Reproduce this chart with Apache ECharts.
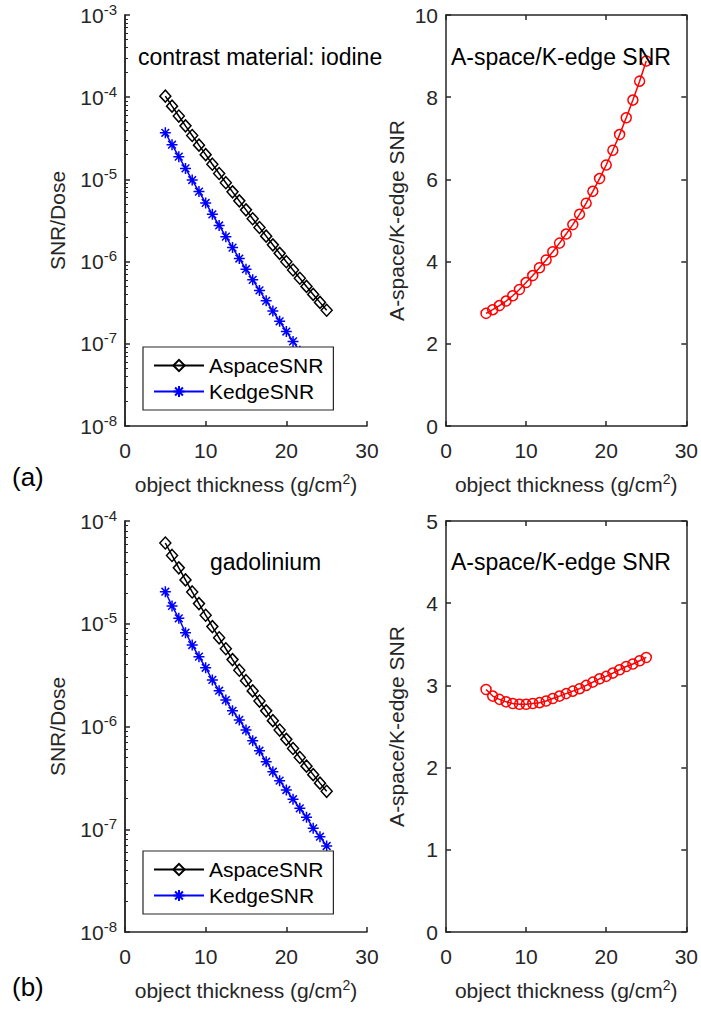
<!DOCTYPE html>
<html><head><meta charset="utf-8">
<script src="https://cdn.jsdelivr.net/npm/echarts@6/dist/echarts.min.js"></script>
<style>html,body{margin:0;padding:0;background:#fff}#c{width:701px;height:1011px}</style>
</head><body><div id="c"></div>
<script>
// ---------- data ----------
const thickness = [5, 5.83, 6.67, 7.5, 8.33, 9.17, 10, 10.83, 11.67, 12.5, 13.33, 14.17, 15, 15.83, 16.67, 17.5, 18.33, 19.17, 20, 20.83, 21.67, 22.5, 23.33, 24.17, 25];
const iodineAspace = [1.03e-4, 7.78e-5, 5.90e-5, 4.48e-5, 3.42e-5, 2.61e-5, 2.00e-5, 1.53e-5, 1.18e-5, 9.12e-6, 7.06e-6, 5.48e-6, 4.26e-6, 3.32e-6, 2.60e-6, 2.04e-6, 1.60e-6, 1.26e-6, 9.97e-7, 7.90e-7, 6.27e-7, 4.99e-7, 3.99e-7, 3.19e-7, 2.56e-7];
const iodineKedge = [3.69e-5, 2.64e-5, 1.89e-5, 1.36e-5, 9.83e-6, 7.11e-6, 5.17e-6, 3.76e-6, 2.75e-6, 2.01e-6, 1.48e-6, 1.09e-6, 8.08e-7, 6.00e-7, 4.46e-7, 3.33e-7, 2.50e-7, 1.88e-7, 1.41e-7, 1.07e-7, 8.10e-8, 6.16e-8, 4.70e-8, 3.60e-8, 2.76e-8];
const iodineRatio = [2.74, 2.83, 2.93, 3.04, 3.17, 3.32, 3.49, 3.66, 3.85, 4.04, 4.24, 4.45, 4.67, 4.90, 5.15, 5.42, 5.71, 6.02, 6.35, 6.71, 7.09, 7.50, 7.93, 8.39, 8.88];
const gdAspace = [6.11e-5, 4.62e-5, 3.50e-5, 2.67e-5, 2.04e-5, 1.57e-5, 1.21e-5, 9.38e-6, 7.30e-6, 5.71e-6, 4.48e-6, 3.53e-6, 2.79e-6, 2.22e-6, 1.77e-6, 1.42e-6, 1.14e-6, 9.24e-7, 7.50e-7, 6.11e-7, 5.00e-7, 4.11e-7, 3.40e-7, 2.81e-7, 2.34e-7];
const gdKedge = [2.05e-5, 1.49e-5, 1.13e-5, 8.18e-6, 6.21e-6, 4.78e-6, 3.73e-6, 2.84e-6, 2.23e-6, 1.81e-6, 1.42e-6, 1.16e-6, 9.24e-7, 7.27e-7, 5.81e-7, 4.54e-7, 3.63e-7, 2.97e-7, 2.41e-7, 1.96e-7, 1.60e-7, 1.31e-7, 1.02e-7, 8.46e-8, 6.87e-8];
const gdRatio = [2.95, 2.87, 2.83, 2.80, 2.78, 2.77, 2.77, 2.78, 2.79, 2.81, 2.84, 2.87, 2.90, 2.93, 2.96, 3.00, 3.04, 3.08, 3.11, 3.15, 3.19, 3.23, 3.26, 3.30, 3.34];
const seriesNames = ['AspaceSNR', 'KedgeSNR'];
const xTitle = 'object thickness (g/cm';
const ySnrTitle = 'SNR/Dose';
const yRatioTitle = 'A-space/K-edge SNR';

// ---------- style ----------
const FONT = '"Liberation Sans", Arial, Helvetica, sans-serif';
const AX = '#262626';
const TICK = 21;
const chart = echarts.init(document.getElementById('c'), null, {renderer: 'svg'});

const grids = [
  {left: 125, top: 15, width: 242, height: 411},
  {left: 446, top: 15, width: 242, height: 411},
  {left: 125, top: 521, width: 242, height: 411},
  {left: 446, top: 521, width: 242, height: 411}
];

const axLine = {show: true, onZero: false, lineStyle: {color: AX, width: 1.5}};
const noSplit = {show: false};

function xBottom(gi) {
  return {type: 'value', gridIndex: gi, min: 0, max: 30, interval: 10, position: 'bottom',
    axisLine: axLine,
    axisTick: {show: true, inside: true, length: 5, lineStyle: {color: AX, width: 1.5}},
    axisLabel: {margin: 14, color: AX, fontSize: TICK, fontFamily: FONT},
    splitLine: noSplit,
    name: '{a|' + xTitle + '}{s|2}{a|)}', nameLocation: 'middle', nameGap: 46,
    nameTextStyle: {color: AX, rich: {
      a: {fontSize: 21, fontFamily: FONT, color: AX},
      s: {fontSize: 14, fontFamily: FONT, color: AX, padding: [0, 0, 10, 0]}}}
  };
}
function xTop(gi) {
  return {type: 'value', gridIndex: gi, min: 0, max: 30, interval: 10, position: 'top',
    axisLine: axLine, axisLabel: {show: false}, splitLine: noSplit,
    axisTick: {show: true, inside: true, length: 5, lineStyle: {color: AX, width: 1.5}}};
}
// log axis used for plotting the SNR/Dose values
function yLogData(gi, mn, mx) {
  return {type: 'log', logBase: 10, gridIndex: gi, min: mn, max: mx, position: 'left', show: false};
}
// decade ticks and 10^n labels
function yLogLabels(gi, mnE, mxE) {
  return {type: 'value', gridIndex: gi, min: mnE, max: mxE, interval: 1, position: 'left',
    axisLine: axLine,
    axisTick: {show: true, inside: true, length: 5, lineStyle: {color: AX, width: 1.5}},
    axisLabel: {margin: 8, color: AX,
      formatter: v => '{b|10}{s|' + v + '}',
      rich: {b: {fontSize: TICK, fontFamily: FONT, color: AX},
             s: {fontSize: 15, fontFamily: FONT, color: AX, padding: [0, 0, 12, 0]}}},
    splitLine: noSplit,
    name: ySnrTitle, nameLocation: 'middle', nameGap: 57,
    nameTextStyle: {fontSize: 21, fontFamily: FONT, color: AX}
  };
}
// minor ticks at 2..9 of each decade
function yMinor(gi, mnE, mxE) {
  const vals = [];
  for (let d = mnE; d < mxE; d++) for (let k = 2; k <= 9; k++) vals.push(d + Math.log10(k));
  return {type: 'value', gridIndex: gi, min: mnE, max: mxE, position: 'left',
    axisLine: {show: true, onZero: false, lineStyle: {color: AX, width: 1.5}},
    axisLabel: {show: true, customValues: vals, formatter: () => ''},
    splitLine: noSplit,
    axisTick: {show: true, inside: true, length: 3, customValues: vals, lineStyle: {color: AX, width: 1}}};
}
function yRatioLeft(gi, mx, iv) {
  return {type: 'value', gridIndex: gi, min: 0, max: mx, interval: iv, position: 'left',
    axisLine: axLine,
    axisTick: {show: true, inside: true, length: 5, lineStyle: {color: AX, width: 1.5}},
    axisLabel: {margin: 8, color: AX, fontSize: TICK, fontFamily: FONT},
    splitLine: noSplit,
    name: yRatioTitle, nameLocation: 'middle', nameGap: 39,
    nameTextStyle: {fontSize: 21, fontFamily: FONT, color: AX}};
}
function yRatioRight(gi, mx, iv) {
  return {type: 'value', gridIndex: gi, min: 0, max: mx, interval: iv, position: 'right',
    axisLine: axLine, axisLabel: {show: false}, splitLine: noSplit,
    axisTick: {show: true, inside: true, length: 5, lineStyle: {color: AX, width: 1.5}}};
}

const ASTERISK = 'path://M0,5L10,5M5,0L5,10M1.5,1.5L8.5,8.5M8.5,1.5L1.5,8.5';
function line(name, xi, yi, ys, color, symbol, size) {
  return {type: 'line', name: name, xAxisIndex: xi, yAxisIndex: yi,
    data: thickness.map((x, i) => [x, ys[i]]),
    symbol: symbol, symbolSize: size, showSymbol: true,
    lineStyle: {color: color, width: 1.5},
    itemStyle: {color: 'rgba(0,0,0,0)', borderColor: color, borderWidth: 1.5},
    emphasis: {disabled: true}, silent: true, animation: false, z: 3};
}

const titleStyle = {fontSize: 23, fontWeight: 'normal', fontFamily: FONT, color: '#000'};
function note(text, left, top, size) {
  return {text: text, left: left, top: top, padding: 0,
    textStyle: Object.assign({}, titleStyle, size ? {fontSize: size} : {})};
}
function legendAt(top) {
  return {data: seriesNames, orient: 'vertical', left: 143, top: top,
    itemWidth: 50, itemHeight: 14, itemGap: 5, padding: [8, 10, 8, 10],
    borderColor: AX, borderWidth: 1.2, backgroundColor: '#fff', borderRadius: 0,
    selectedMode: false, z: 10,
    textStyle: {fontSize: 21, fontFamily: FONT, color: '#000'}};
}

const option = {
  backgroundColor: '#fff',
  animation: false,
  textStyle: {fontFamily: FONT},
  grid: grids,
  title: [
    note('contrast material: iodine', 138, 45),
    note('A-space/K-edge SNR', 451, 45),
    note('gadolinium', 210, 550),
    note('A-space/K-edge SNR', 451, 550),
    note('(a)', 12, 464, 26),
    note('(b)', 12, 974, 26)
  ],
  legend: [legendAt(347), legendAt(851)],
  xAxis: [xBottom(0), xBottom(1), xTop(1), xBottom(2), xBottom(3), xTop(3)],
  yAxis: [
    yLogData(0, 1e-8, 1e-3), yLogLabels(0, -8, -3), yMinor(0, -8, -3),
    yRatioLeft(1, 10, 2), yRatioRight(1, 10, 2),
    yLogData(2, 1e-8, 1e-4), yLogLabels(2, -8, -4), yMinor(2, -8, -4),
    yRatioLeft(3, 5, 1), yRatioRight(3, 5, 1)
  ],
  series: [
    line(seriesNames[0], 0, 0, iodineAspace, '#000000', 'diamond', [11, 12]),
    line(seriesNames[1], 0, 0, iodineKedge, '#0000ff', ASTERISK, 11),
    line('ratioI', 1, 3, iodineRatio, '#ff0000', 'circle', 10),
    line(seriesNames[0], 3, 5, gdAspace, '#000000', 'diamond', [11, 12]),
    line(seriesNames[1], 3, 5, gdKedge, '#0000ff', ASTERISK, 11),
    line('ratioG', 4, 8, gdRatio, '#ff0000', 'circle', 10)
  ]
};
chart.setOption(option);
</script></body></html>
